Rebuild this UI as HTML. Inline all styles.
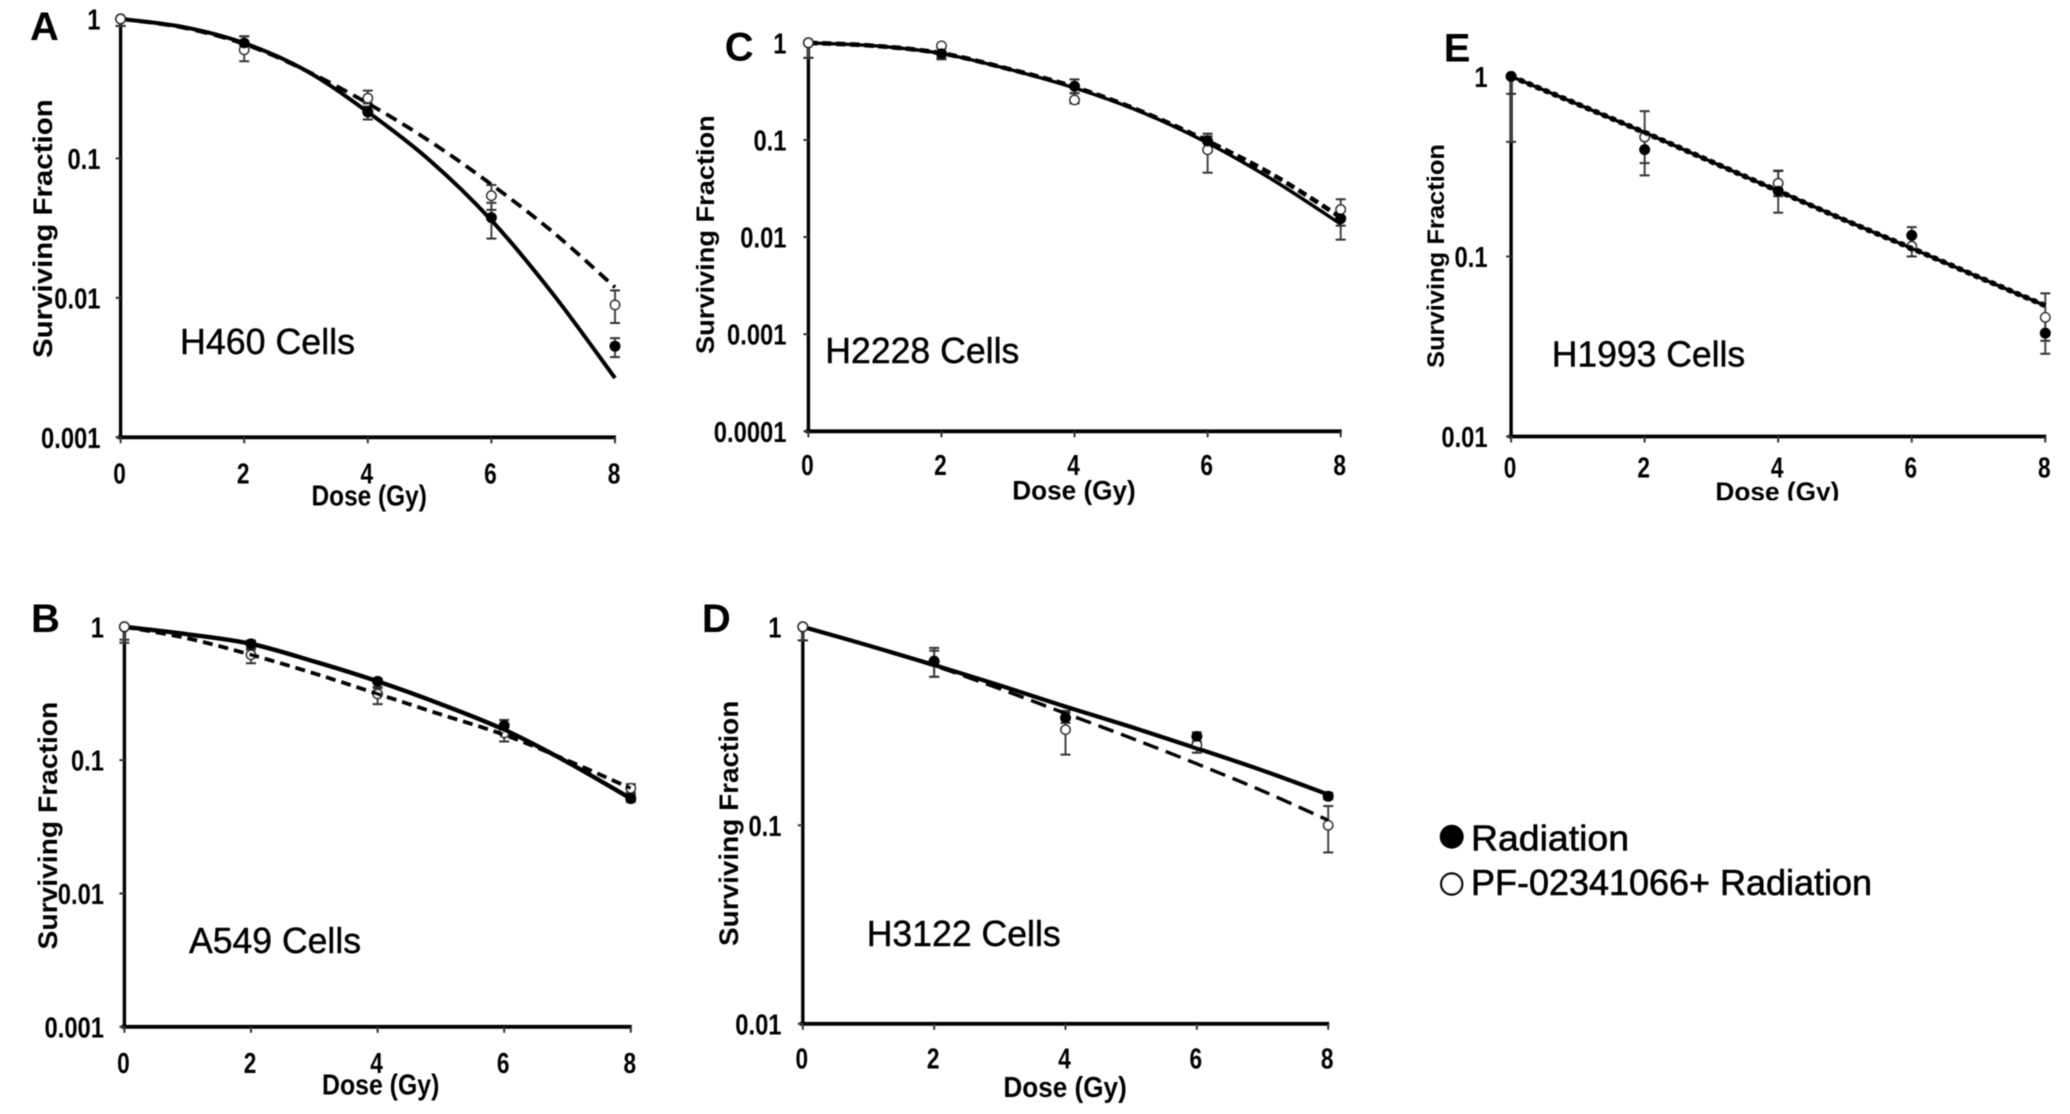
<!DOCTYPE html>
<html lang="en">
<head>
<meta charset="utf-8">
<title>Clonogenic survival curves</title>
<style>
html,body{margin:0;padding:0;background:#fff;width:2070px;height:1114px;overflow:hidden}
svg{display:block}
text{font-family:"Liberation Sans",Arial,sans-serif;fill:#000}
.panel-letter{font-size:40px;font-weight:700}
.cell-label{font-size:36px;stroke:#000;stroke-width:.45px}
.x-title{font-size:29px;font-weight:700}
.y-title{font-size:27px;font-weight:700}
.legend-text{font-size:36px;stroke:#000;stroke-width:.6px}
</style>
</head>
<body>
<svg id="figure" xmlns="http://www.w3.org/2000/svg" width="2070" height="1114" viewBox="0 0 2070 1114">
  <defs>
    <filter id="soft" x="0" y="0" width="2070" height="1114" filterUnits="userSpaceOnUse"><feGaussianBlur stdDeviation="0.55"/></filter>
  </defs>
  <rect width="2070" height="1114" fill="#fff"/>
  <g id="root" filter="url(#soft)">
    <g id="panel-a">
      <text class="panel-letter" x="30" y="39.8">A</text>
      <text class="cell-label" x="180" y="354" textLength="175" lengthAdjust="spacingAndGlyphs">H460 Cells</text>
      <text class="x-title" x="311.5" y="505.5" textLength="115.4" lengthAdjust="spacingAndGlyphs">Dose (Gy)</text>
      <text class="y-title" transform="translate(52,358) rotate(-90)" textLength="258.7" lengthAdjust="spacingAndGlyphs">Surviving Fraction</text>
    </g>
    <g id="panel-b">
      <text class="panel-letter" x="31" y="632">B</text>
      <text class="cell-label" x="189" y="953" textLength="172" lengthAdjust="spacingAndGlyphs">A549 Cells</text>
      <text class="x-title" x="322" y="1094.4" textLength="117.4" lengthAdjust="spacingAndGlyphs">Dose (Gy)</text>
      <text class="y-title" transform="translate(57,949.5) rotate(-90)" textLength="247.8" lengthAdjust="spacingAndGlyphs">Surviving Fraction</text>
    </g>
    <g id="panel-c">
      <text class="panel-letter" x="724.8" y="60.7">C</text>
      <text class="cell-label" x="825.3" y="363" textLength="194" lengthAdjust="spacingAndGlyphs">H2228 Cells</text>
      <text class="x-title" style="font-size:27px" x="1012.3" y="499.5" textLength="123.4" lengthAdjust="spacingAndGlyphs">Dose (Gy)</text>
      <text class="y-title" style="font-size:25px" transform="translate(714,354) rotate(-90)" textLength="238.8" lengthAdjust="spacingAndGlyphs">Surviving Fraction</text>
    </g>
    <g id="panel-d">
      <text class="panel-letter" x="701.9" y="632">D</text>
      <text class="cell-label" x="866.7" y="946.2" textLength="194" lengthAdjust="spacingAndGlyphs">H3122 Cells</text>
      <text class="x-title" x="1003.4" y="1097" textLength="123.4" lengthAdjust="spacingAndGlyphs">Dose (Gy)</text>
      <text class="y-title" transform="translate(738,946) rotate(-90)" textLength="245.3" lengthAdjust="spacingAndGlyphs">Surviving Fraction</text>
    </g>
    <g id="panel-e">
      <text class="panel-letter" x="1443.8" y="61.7">E</text>
      <text class="cell-label" x="1551.7" y="366.7" textLength="193.5" lengthAdjust="spacingAndGlyphs">H1993 Cells</text>
      <text class="x-title" style="font-size:26px" x="1715.4" y="500.5" textLength="124" lengthAdjust="spacingAndGlyphs">Dose (Gy)</text>
      <rect x="1690" y="501" width="170" height="14" fill="#fff"/>
      <text class="y-title" style="font-size:24px" transform="translate(1444,368) rotate(-90)" textLength="224" lengthAdjust="spacingAndGlyphs">Surviving Fraction</text>
    </g>
    <g id="legend">
      <circle cx="1451.7" cy="836.7" r="12" fill="#000"/>
      <text class="legend-text" x="1471" y="850.7" textLength="158" lengthAdjust="spacingAndGlyphs">Radiation</text>
      <circle cx="1451.7" cy="884" r="10.5" fill="#fff" stroke="#000" stroke-width="2.4"/>
      <text class="legend-text" x="1471" y="895" textLength="401" lengthAdjust="spacingAndGlyphs">PF-02341066+ Radiation</text>
    </g>
  </g>
</svg>
<script>
// Shared axis data
const doses = [0, 2, 4, 6, 8];
const fitDoses = [0, 1, 2, 3, 4, 5, 6, 7, 8];
const xTickLabels = ['0', '2', '4', '6', '8'];

// Panel A - H460
const aTickValues = [1, 0.1, 0.01, 0.001];
const aTickLabels = ['1', '0.1', '0.01', '0.001'];
const aRadiation = [1, 0.67, 0.215, 0.0376, 0.0045];
const aRadiationUpper = [1, 0.75, 0.235, 0.048, 0.00514];
const aRadiationLower = [0.89, 0.6, 0.19, 0.0266, 0.00376];
const aPf = [1, 0.6, 0.27, 0.054, 0.0089];
const aPfUpper = [1, 0.75, 0.306, 0.0645, 0.0113];
const aPfLower = [0.89, 0.497, 0.248, 0.0427, 0.0066];
const aRadiationFit = [1, 0.877, 0.67, 0.426, 0.215, 0.097, 0.036, 0.0106, 0.00266];
const aPfFit = [1, 0.867, 0.66, 0.426, 0.248, 0.133, 0.065, 0.0295, 0.0119];

// Panel B - A549
const bTickValues = [1, 0.1, 0.01, 0.001];
const bTickLabels = ['1', '0.1', '0.01', '0.001'];
const bRadiation = [1, 0.745, 0.39, 0.182, 0.0515];
const bRadiationUpper = [1, 0.79, 0.409, 0.2, 0.0553];
const bRadiationLower = [0.8, 0.695, 0.353, 0.164, 0.0486];
const bPf = [1, 0.617, 0.314, 0.16, 0.0615];
const bPfUpper = [1, 0.674, 0.347, 0.174, 0.066];
const bPfLower = [0.758, 0.533, 0.263, 0.138, 0.0569];
const bRadiationFit = [1, 0.879, 0.745, 0.549, 0.39, 0.263, 0.169, 0.0966, 0.0515];
const bPfFit = [1, 0.819, 0.617, 0.447, 0.314, 0.22, 0.155, 0.0995, 0.0615];

// Panel C - H2228
const cTickValues = [1, 0.1, 0.01, 0.001, 0.0001];
const cTickLabels = ['1', '0.1', '0.01', '0.001', '0.0001'];
const cRadiation = [1, 0.776, 0.357, 0.097, 0.0155];
const cRadiationUpper = [1, 0.88, 0.42, 0.116, 0.02];
const cRadiationLower = [0.7, 0.676, 0.303, 0.076, 0.0094];
const cPf = [1, 0.93, 0.258, 0.079, 0.0192];
const cPfUpper = [1, 0.95, 0.303, 0.109, 0.0245];
const cPfLower = [0.7, 0.7, 0.238, 0.046, 0.0131];
const cRadiationFit = [1, 0.93, 0.776, 0.537, 0.343, 0.194, 0.093, 0.038, 0.0136];
const cPfFit = [1, 0.93, 0.78, 0.54, 0.35, 0.197, 0.097, 0.043, 0.016];

// Panel D - H3122
const dTickValues = [1, 0.1, 0.01];
const dTickLabels = ['1', '0.1', '0.01'];
const dRadiation = [1, 0.668, 0.348, 0.28, 0.14];
const dRadiationUpper = [1, 0.783, 0.377, 0.294, 0.146];
const dRadiationLower = [0.854, 0.56, 0.328, 0.264, 0.135];
const dPf = [1, 0.673, 0.303, 0.254, 0.1];
const dPfUpper = [1, 0.758, 0.369, 0.28, 0.125];
const dPfLower = [0.854, 0.56, 0.227, 0.232, 0.073];
const dRadiationFit = [1, 0.805, 0.642, 0.507, 0.396, 0.313, 0.244, 0.189, 0.143];
const dPfFit = [1, 0.805, 0.637, 0.487, 0.366, 0.275, 0.204, 0.149, 0.106];

// Panel E - H1993
const eTickValues = [1, 0.1, 0.01];
const eTickLabels = ['1', '0.1', '0.01'];
const eRadiation = [1, 0.392, 0.231, 0.131, 0.0375];
const eRadiationUpper = [1, 0.49, 0.3, 0.1455, 0.046];
const eRadiationLower = [0.433, 0.282, 0.175, 0.1156, 0.0288];
const ePf = [1, 0.46, 0.255, 0.114, 0.0459];
const ePfUpper = [1, 0.641, 0.298, 0.13, 0.0624];
const ePfLower = [0.8, 0.33, 0.216, 0.1, 0.034];
const eRadiationFit = [1, 0.7, 0.488, 0.336, 0.231, 0.159, 0.111, 0.0768, 0.0533];
const ePfFit = [1, 0.7, 0.488, 0.336, 0.231, 0.159, 0.111, 0.0768, 0.0533];

const SVG_NS = 'http://www.w3.org/2000/svg';

function make(parent, tag, attrs) {
  const el = document.createElementNS(SVG_NS, tag);
  for (const key in attrs) el.setAttribute(key, attrs[key]);
  parent.appendChild(el);
  return el;
}

function smoothPath(points) {
  let d = 'M' + points[0][0] + ',' + points[0][1];
  for (let i = 0; i < points.length - 1; i++) {
    const p0 = points[Math.max(i - 1, 0)];
    const p1 = points[i];
    const p2 = points[i + 1];
    const p3 = points[Math.min(i + 2, points.length - 1)];
    const c1x = p1[0] + (p2[0] - p0[0]) / 6;
    const c1y = p1[1] + (p2[1] - p0[1]) / 6;
    const c2x = p2[0] - (p3[0] - p1[0]) / 6;
    const c2y = p2[1] - (p3[1] - p1[1]) / 6;
    d += ' C' + c1x + ',' + c1y + ' ' + c2x + ',' + c2y + ' ' + p2[0] + ',' + p2[1];
  }
  return d;
}

function drawPanel(cfg) {
  const group = document.getElementById(cfg.groupId);
  const decades = Math.log10(cfg.tickValues[0] / cfg.tickValues[cfg.tickValues.length - 1]);
  const xScale = function (dose) { return cfg.x0 + (dose / 8) * (cfg.x8 - cfg.x0); };
  const yScale = function (value) { return cfg.yTop + (-Math.log10(value) / decades) * (cfg.yBottom - cfg.yTop); };

  const yAxis = make(group, 'line', { x1: cfg.x0, x2: cfg.x0, y1: cfg.yTop, y2: cfg.yBottom + 1, stroke: '#000', 'stroke-width': 3.4 });
  
  

  const xAxis = make(group, 'line', { x1: cfg.x0 - 3, x2: cfg.x8 + 1, y1: cfg.yBottom, y2: cfg.yBottom, stroke: '#000', 'stroke-width': 3.8 });
  
  

  doses.forEach(function (dose, i) {
    const px = xScale(dose);
    const tick = make(group, 'line', { x1: px, x2: px, y1: cfg.yBottom, y2: cfg.yBottom + 6, stroke: '#333', 'stroke-width': 2 });
    
    
    const label = make(group, 'text', { transform: 'translate(' + (px - 1) + ',' + cfg.xLabelY + ') scale(0.78,1)', 'text-anchor': 'middle', 'font-size': 29, 'font-weight': 700 });
    
    
    label.textContent = xTickLabels[i];
  });

  cfg.tickValues.forEach(function (value, i) {
    const py = yScale(value);
    const tick = make(group, 'line', { x1: cfg.x0 - 5, x2: cfg.x0, y1: py, y2: py, stroke: '#333', 'stroke-width': 2 });
    
    
    const label = make(group, 'text', { transform: 'translate(' + cfg.yLabelX + ',' + (py + 10.5) + ') scale(0.82,1)', 'text-anchor': 'end', 'font-size': 29, 'font-weight': 700 });
    
    
    label.textContent = cfg.tickLabels[i];
  });

  [[cfg.radiationUpper, cfg.radiationLower, 'radiation'], [cfg.pfUpper, cfg.pfLower, 'pf']].forEach(function (set) {
    doses.forEach(function (dose, i) {
      const px = xScale(dose);
      const top = yScale(set[0][i]);
      const bottom = yScale(set[1][i]);
      const stem = make(group, 'line', { x1: px, x2: px, y1: top, y2: bottom, stroke: '#444', 'stroke-width': 2 });
      
      
      const capTop = make(group, 'line', { x1: px - 5, x2: px + 5, y1: top, y2: top, stroke: '#333', 'stroke-width': 2 });
      
      
      const capBottom = make(group, 'line', { x1: px - 5, x2: px + 5, y1: bottom, y2: bottom, stroke: '#333', 'stroke-width': 2 });
      
      
    });
  });

  const solidPoints = fitDoses.map(function (dose, i) { return [xScale(dose), yScale(cfg.radiationFit[i])]; });
  const dashPoints = fitDoses.map(function (dose, i) { return [xScale(dose), yScale(cfg.pfFit[i])]; });

  function drawOpen(dose, i) {
    const open = make(group, 'circle', { cx: xScale(dose), cy: yScale(cfg.pf[i]), r: 4.6, fill: '#fff', stroke: '#222', 'stroke-width': 1.6 });
    
    
  }
  function drawFilled(dose, i) {
    const filled = make(group, 'circle', { cx: xScale(dose), cy: yScale(cfg.radiation[i]), r: 5.5, fill: '#000' });
    
    
  }

  doses.forEach(function (dose, i) {
    if (i > 0) drawOpen(dose, i);
  });
  doses.forEach(function (dose, i) {
    if (i > 0) drawFilled(dose, i);
  });

  const solid = make(group, 'path', { d: smoothPath(solidPoints), fill: 'none', stroke: '#000', 'stroke-width': cfg.solidWidth });
  
  

  const dashed = make(group, 'path', { d: smoothPath(dashPoints), fill: 'none', stroke: '#000', 'stroke-width': cfg.dashWidth, 'stroke-dasharray': cfg.dash });
  
  

  // The first dose sits above the fit lines; panel E shows the filled marker there.
  if (cfg.filledOnTopAtZero) {
    drawOpen(doses[0], 0);
    drawFilled(doses[0], 0);
  } else {
    drawFilled(doses[0], 0);
    drawOpen(doses[0], 0);
  }
}

drawPanel({ key: 'a', groupId: 'panel-a', x0: 120.6, x8: 615, yTop: 18.9, yBottom: 437.3, xLabelY: 483.6, yLabelX: 100.5,
  tickValues: aTickValues, tickLabels: aTickLabels,
  radiation: aRadiation, radiationUpper: aRadiationUpper, radiationLower: aRadiationLower,
  pf: aPf, pfUpper: aPfUpper, pfLower: aPfLower,
  radiationFit: aRadiationFit, pfFit: aPfFit, solidWidth: 4, dashWidth: 3.8, dash: '12 7', filledOnTopAtZero: false });

drawPanel({ key: 'b', groupId: 'panel-b', x0: 124.4, x8: 630.8, yTop: 626.8, yBottom: 1026.8, xLabelY: 1073.2, yLabelX: 104,
  tickValues: bTickValues, tickLabels: bTickLabels,
  radiation: bRadiation, radiationUpper: bRadiationUpper, radiationLower: bRadiationLower,
  pf: bPf, pfUpper: bPfUpper, pfLower: bPfLower,
  radiationFit: bRadiationFit, pfFit: bPfFit, solidWidth: 4.4, dashWidth: 3.8, dash: '10 6', filledOnTopAtZero: false });

drawPanel({ key: 'c', groupId: 'panel-c', x0: 808.4, x8: 1340.7, yTop: 42.8, yBottom: 431.3, xLabelY: 475, yLabelX: 786.5,
  tickValues: cTickValues, tickLabels: cTickLabels,
  radiation: cRadiation, radiationUpper: cRadiationUpper, radiationLower: cRadiationLower,
  pf: cPf, pfUpper: cPfUpper, pfLower: cPfLower,
  radiationFit: cRadiationFit, pfFit: cPfFit, solidWidth: 3.4, dashWidth: 4.6, dash: '9 5', filledOnTopAtZero: false });

drawPanel({ key: 'd', groupId: 'panel-d', x0: 802.8, x8: 1328.2, yTop: 626.8, yBottom: 1023.8, xLabelY: 1068.5, yLabelX: 781.5,
  tickValues: dTickValues, tickLabels: dTickLabels,
  radiation: dRadiation, radiationUpper: dRadiationUpper, radiationLower: dRadiationLower,
  pf: dPf, pfUpper: dPfUpper, pfLower: dPfLower,
  radiationFit: dRadiationFit, pfFit: dPfFit, solidWidth: 4.2, dashWidth: 3.4, dash: '16 8', filledOnTopAtZero: false });

drawPanel({ key: 'e', groupId: 'panel-e', x0: 1511.1, x8: 2045.3, yTop: 76.4, yBottom: 436.5, xLabelY: 477.6, yLabelX: 1487.6,
  tickValues: eTickValues, tickLabels: eTickLabels,
  radiation: eRadiation, radiationUpper: eRadiationUpper, radiationLower: eRadiationLower,
  pf: ePf, pfUpper: ePfUpper, pfLower: ePfLower,
  radiationFit: eRadiationFit, pfFit: ePfFit, solidWidth: 3.4, dashWidth: 5.4, dash: '5 4', filledOnTopAtZero: true });
</script>
</body>
</html>
